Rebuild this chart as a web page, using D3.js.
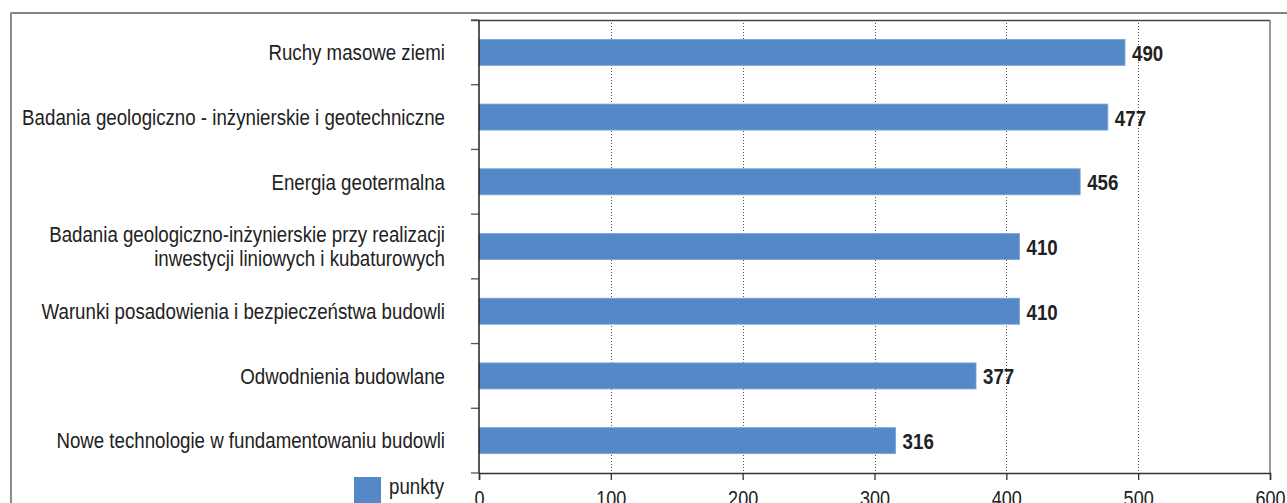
<!DOCTYPE html>
<html>
<head>
<meta charset="utf-8">
<script src="https://cdn.jsdelivr.net/npm/d3@7"></script>
<style>
  html, body { margin: 0; padding: 0; background: #fff; }
  svg { display: block; }
  text { font-family: "Liberation Sans", Arial, sans-serif; }
</style>
</head>
<body>
<svg id="chart" width="1287" height="503"></svg>
<script>
const categories = [
  ["Ruchy masowe ziemi"],
  ["Badania geologiczno - inżynierskie i geotechniczne"],
  ["Energia geotermalna"],
  ["Badania geologiczno-inżynierskie przy realizacji", "inwestycji liniowych i kubaturowych"],
  ["Warunki posadowienia i bezpieczeństwa budowli"],
  ["Odwodnienia budowlane"],
  ["Nowe technologie w fundamentowaniu budowli"]
];
const values = [490, 477, 456, 410, 410, 377, 316];
const xTicks = [0, 100, 200, 300, 400, 500, 600];
const seriesName = "punkty";

(function () {
const svg = d3.select("#chart");
const pL = 479, pR = 1270, pT = 20, pB = 473;
const barColor = "#5588c7";
const SX = 0.85; // condensed look

const x = d3.scaleLinear().domain([0, 600]).range([pL, pR]);
const y = d3.scaleBand().domain(d3.range(categories.length)).range([pT, pB])
  .paddingInner(0.598).paddingOuter(0.299);
const step = y.step();

// outer frame
svg.append("line").attr("x1", 11).attr("x2", 1287).attr("y1", 13).attr("y2", 13)
  .attr("stroke", "#5a5a5a").attr("stroke-width", 1.6);
svg.append("line").attr("x1", 11).attr("x2", 11).attr("y1", 12.2).attr("y2", 503)
  .attr("stroke", "#8c8c8c").attr("stroke-width", 2);

// gridlines
svg.append("g").selectAll("line").data(xTicks.slice(1, -1)).join("line")
  .attr("x1", d => Math.round(x(d)) + 0.5).attr("x2", d => Math.round(x(d)) + 0.5)
  .attr("y1", pT).attr("y2", pB)
  .attr("stroke", "#555").attr("stroke-width", 1).attr("stroke-dasharray", "1,2");

// plot frame top and right
svg.append("line").attr("x1", pL - 8).attr("x2", pR).attr("y1", pT + 0.5).attr("y2", pT + 0.5)
  .attr("stroke", "#444").attr("stroke-width", 1.3);
svg.append("line").attr("x1", pR).attr("x2", pR).attr("y1", pT).attr("y2", pB)
  .attr("stroke", "#808080").attr("stroke-width", 1.6);

// bars
svg.append("g").selectAll("rect").data(values).join("rect")
  .attr("x", x(0)).attr("y", (d, i) => y(i))
  .attr("width", d => x(d) - x(0)).attr("height", y.bandwidth())
  .attr("fill", barColor).attr("stroke", "#7aa3d6").attr("stroke-width", 0.8);

// value labels
svg.append("g").selectAll("text").data(values).join("text")
  .attr("transform", (d, i) => `translate(${x(d) + 7},${y(i) + y.bandwidth() / 2 + 8.5}) scale(${SX},1)`)
  .attr("font-size", 22).attr("font-weight", "bold").attr("fill", "#222")
  .text(d => d);

// y axis ticks at band boundaries
const bounds = d3.range(categories.length + 1).map(i => pT + i * step);
svg.append("g").selectAll("line").data(bounds).join("line")
  .attr("x1", pL - 8).attr("x2", pL).attr("y1", d => d).attr("y2", d => d)
  .attr("stroke", "#555").attr("stroke-width", 1.3);
svg.append("line").attr("x1", pL).attr("x2", pL).attr("y1", pT).attr("y2", pB)
  .attr("stroke", "#222").attr("stroke-width", 1.5);

// category labels
const catG = svg.append("g");
categories.forEach((lines, i) => {
  const cy = pT + (i + 0.5) * step;
  const lh = 24;
  lines.forEach((ln, j) => {
    const yy = cy + 7.8 + (j - (lines.length - 1) / 2) * lh;
    catG.append("text").attr("text-anchor", "end").attr("font-size", 22).attr("fill", "#222")
      .attr("transform", `translate(445,${yy}) scale(${SX},1)`)
      .text(ln);
  });
});

// x axis
const xAxis = svg.append("g").attr("transform", `translate(0,${pB})`)
  .call(d3.axisBottom(x).tickValues(xTicks).tickSize(7).tickPadding(10));
xAxis.select(".domain").attr("stroke", "#333").attr("stroke-width", 1.5);
xAxis.selectAll(".tick line").attr("stroke", "#333").attr("stroke-width", 1.3);
xAxis.selectAll(".tick text").attr("font-size", 22).attr("fill", "#222")
  .attr("font-family", "'Liberation Sans', Arial, sans-serif")
  .attr("transform", "scale(0.82,1)");

// legend
svg.append("rect").attr("x", 354).attr("y", 477).attr("width", 27).attr("height", 27).attr("fill", barColor);
svg.append("text").attr("transform", `translate(389,494) scale(${SX},1)`)
  .attr("font-size", 22).attr("fill", "#222").text(seriesName);
})();
</script>
</body>
</html>
